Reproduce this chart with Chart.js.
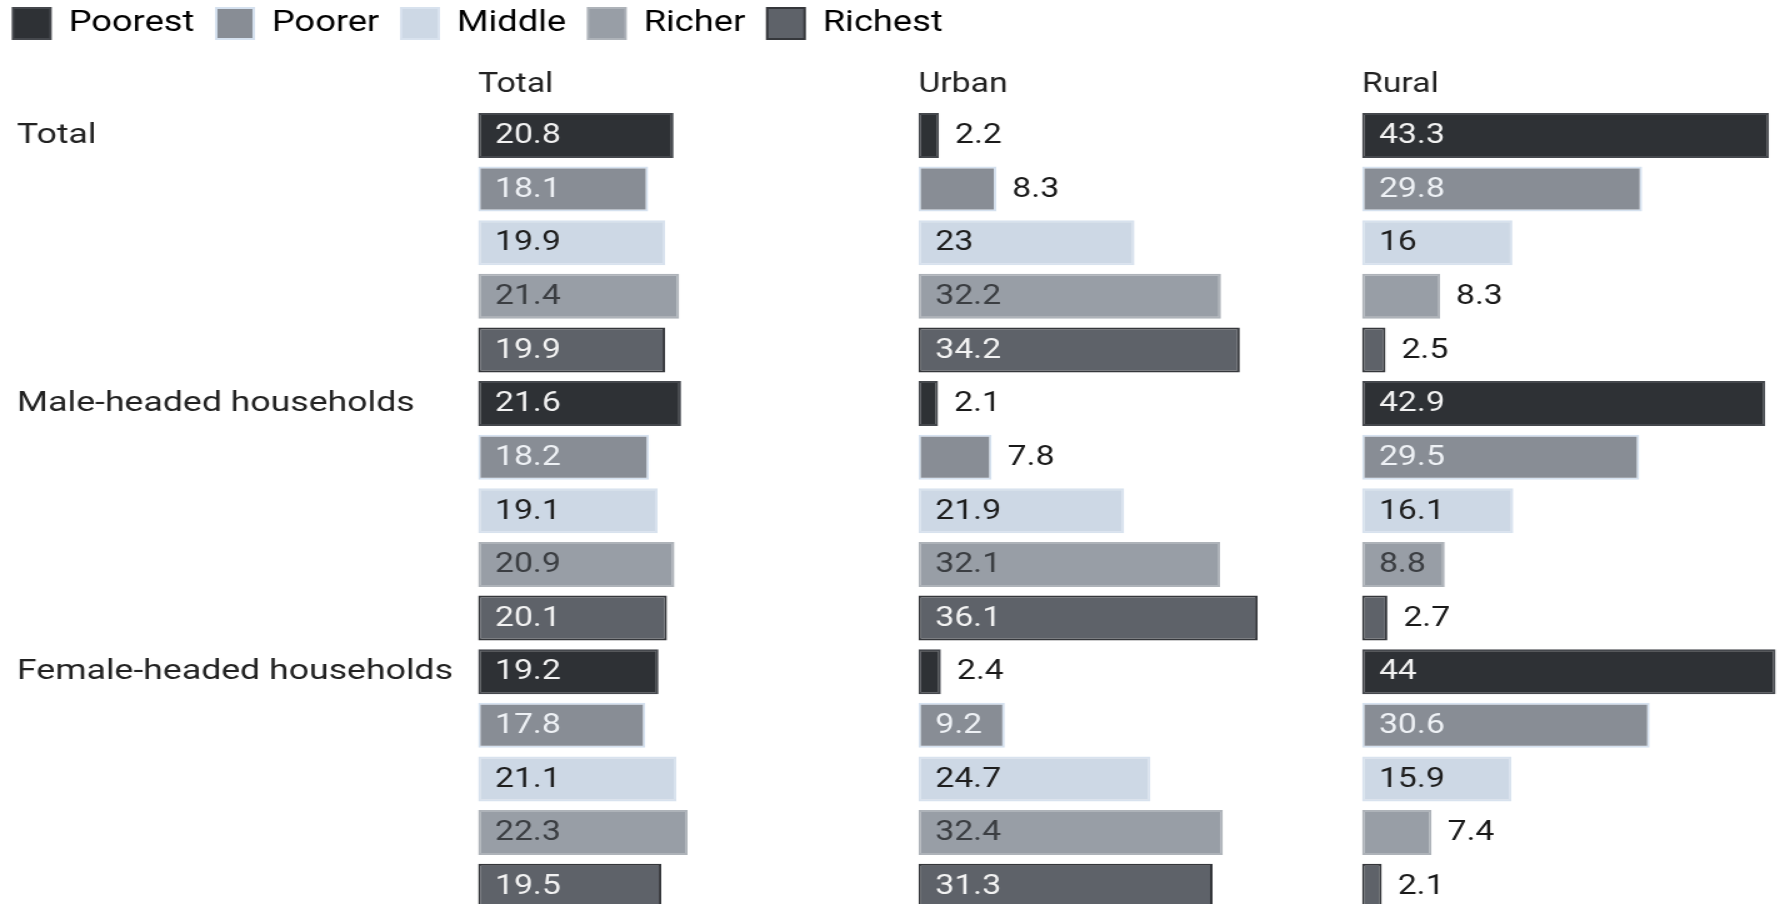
<!DOCTYPE html>
<html>
<head>
<meta charset="utf-8">
<script src="https://cdn.jsdelivr.net/npm/chart.js@4.4.1/dist/chart.umd.min.js"></script>
<style>
  html, body { margin: 0; padding: 0; background: #fff; overflow: hidden; }
  /* drawn on a narrower canvas, then widened to the full 1780px */
  #wrap { position: relative; width: 1424px; height: 913px; transform: scaleX(1.25); transform-origin: 0 0; }
</style>
</head>
<body>
<div id="wrap"><canvas id="quintileChart"></canvas></div>
<script>
const groups = ['Total', 'Male-headed households', 'Female-headed households'];
const quintiles = ['Poorest', 'Poorer', 'Middle', 'Richer', 'Richest'];
const panels = ['Total', 'Urban', 'Rural'];

// share of households in each wealth quintile (%), 5 rows per group
const totalValues = [20.8, 18.1, 19.9, 21.4, 19.9, 21.6, 18.2, 19.1, 20.9, 20.1, 19.2, 17.8, 21.1, 22.3, 19.5];
const urbanValues = [2.2, 8.3, 23, 32.2, 34.2, 2.1, 7.8, 21.9, 32.1, 36.1, 2.4, 9.2, 24.7, 32.4, 31.3];
const ruralValues = [43.3, 29.8, 16, 8.3, 2.5, 42.9, 29.5, 16.1, 8.8, 2.7, 44, 30.6, 15.9, 7.4, 2.1];

// one colour set per quintile
const fills = ['#2e3135', '#888d95', '#cdd8e5', '#989ea6', '#5e6269'];
const borders = ['#45484d', '#d5e1ef', '#d8e2ee', '#aeb3b9', '#35373b'];
const insideText = ['#f2f2f2', '#eef1f5', '#1e1e1e', '#3b3e42', '#f2f2f2'];

// axis extents, also used as stack weights so every panel has the same px per unit
const panelMax = [46.84, 47.2, 44.47];

const rowLabels = [];
groups.forEach(g => quintiles.forEach(q => rowLabels.push(g + ' - ' + q)));

const rowFill = rowLabels.map((_, i) => fills[i % 5]);
const rowBorder = rowLabels.map((_, i) => borders[i % 5]);

Chart.defaults.font.family = 'Roboto, "Noto Sans", sans-serif';
Chart.defaults.color = '#222';

// value labels: inside the bar when it is wide enough, otherwise just past its end
const valueLabels = {
  id: 'valueLabels',
  afterDatasetsDraw(chart) {
    const { ctx } = chart;
    ctx.save();
    ctx.font = '27px Roboto, "Noto Sans", sans-serif';
    ctx.textBaseline = 'middle';
    ctx.textAlign = 'left';
    chart.data.datasets.forEach((ds, di) => {
      const meta = chart.getDatasetMeta(di);
      meta.data.forEach((bar, i) => {
        const value = ds.data[i];
        if (value >= 8.5) {
          ctx.fillStyle = insideText[i % 5];
          ctx.fillText(String(value), bar.base + 13.6, bar.y + 1);
        } else {
          ctx.fillStyle = '#1a1a1a';
          ctx.fillText(String(value), bar.x + 12.8, bar.y + 1);
        }
      });
    });
    ctx.restore();
  }
};

// pull the legend towards the left edge, the row labels keep the layout padding
const legendShift = {
  id: 'legendShift',
  afterLayout(chart) {
    chart.legend.left = 10.4 - chart.options.plugins.legend.labels.padding;
  }
};

const xAxis = (title, max, order) => ({
  type: 'linear',
  position: 'top',
  stack: 'panels',
  stackWeight: max,
  weight: order,
  min: 0,
  max: max,
  grid: { display: false, drawTicks: false },
  border: { display: false },
  ticks: { display: false },
  title: {
    display: true,
    text: title,
    align: 'start',
    color: '#222',
    font: { size: 27 },
    padding: { top: 19.8, bottom: 7.4 }
  }
});

const ctx = document.getElementById('quintileChart').getContext('2d');
new Chart(ctx, {
  type: 'bar',
  data: {
    labels: rowLabels,
    datasets: [
      { label: panels[0], data: totalValues, xAxisID: 'xTotal' },
      { label: panels[1], data: urbanValues, xAxisID: 'xUrban' },
      { label: panels[2], data: ruralValues, xAxisID: 'xRural' }
    ].map(d => Object.assign(d, {
      backgroundColor: rowFill,
      borderColor: rowBorder,
      borderWidth: 2,
      borderSkipped: false,
      grouped: false,
      categoryPercentage: 1,
      barPercentage: 0.84
    }))
  },
  options: {
    indexAxis: 'y',
    responsive: true,
    maintainAspectRatio: false,
    animation: false,
    layout: { padding: { top: -9.5, left: 13.6, right: 0, bottom: 0 } },
    plugins: {
      legend: {
        position: 'top',
        align: 'start',
        onClick: null,
        labels: {
          boxWidth: 30,
          boxHeight: 31,
          padding: 17.5,
          color: '#222',
          font: { size: 29 },
          generateLabels: () => quintiles.map((q, i) => ({
            text: q,
            fillStyle: fills[i],
            strokeStyle: borders[i],
            lineWidth: 2,
            hidden: false,
            index: i
          }))
        }
      },
      tooltip: {
        callbacks: {
          label: c => c.dataset.label + ': ' + c.parsed.x + '%'
        }
      }
    },
    scales: {
      y: {
        type: 'category',
        position: 'left',
        grid: { display: false },
        border: { display: false },
        ticks: {
          autoSkip: false,
          crossAlign: 'far',
          color: '#222',
          font: { size: 28.5 },
          callback: (v, i) => (i % 5 === 0 ? groups[i / 5] : '')
        },
        afterFit: s => {
          s.width = 368.8;
          s.paddingTop = 0;
          s.paddingBottom = 0;
        }
      },
      xTotal: xAxis(panels[0], panelMax[0], 3),
      xUrban: xAxis(panels[1], panelMax[1], 2),
      xRural: xAxis(panels[2], panelMax[2], 1)
    }
  },
  plugins: [valueLabels, legendShift]
});
</script>
</body>
</html>
